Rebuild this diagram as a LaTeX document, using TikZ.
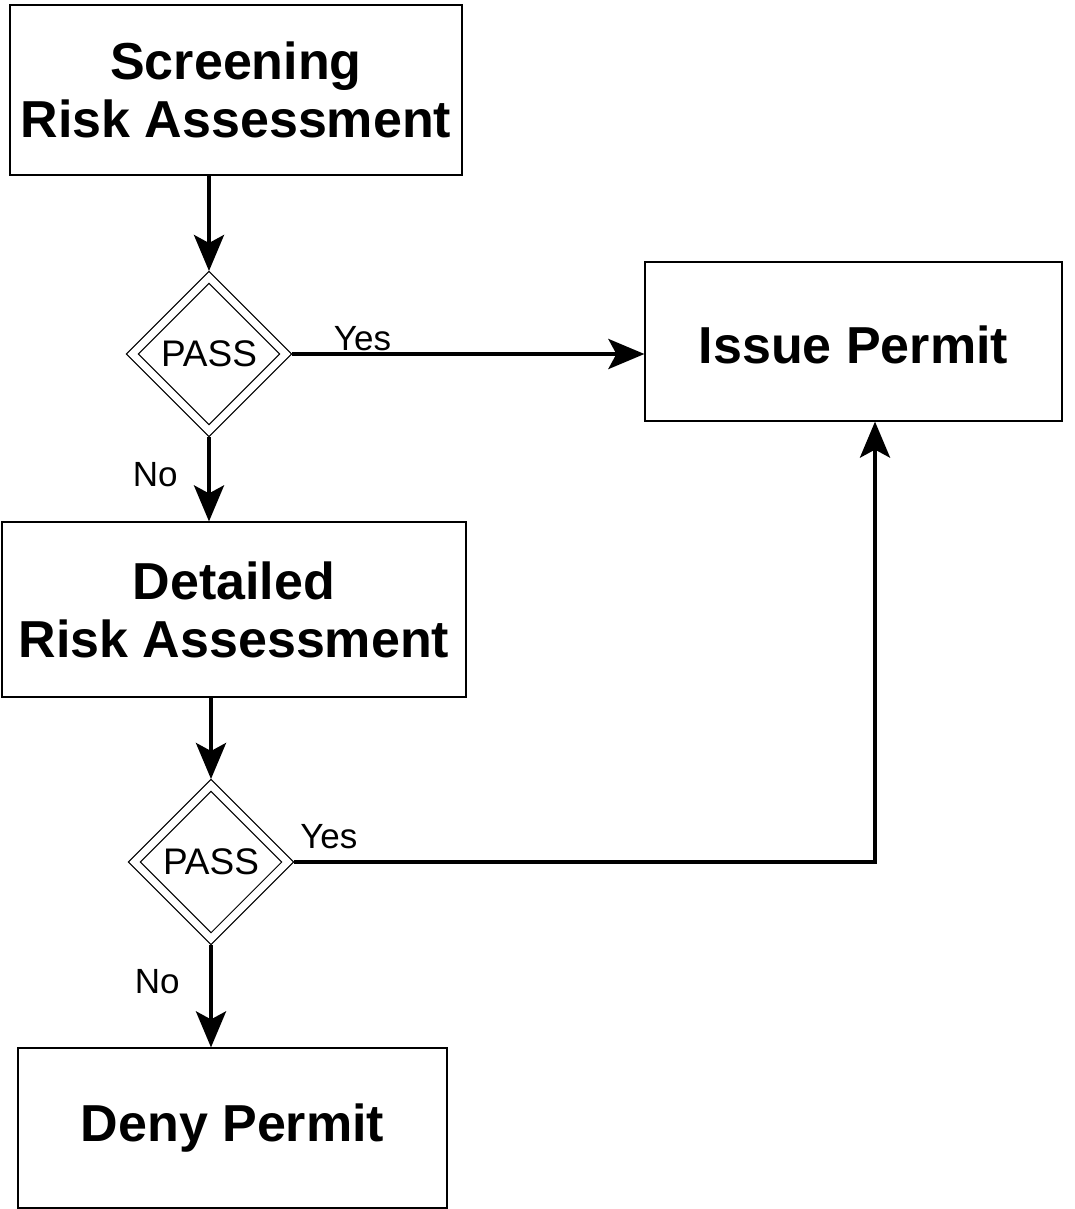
\documentclass[tikz,border=0pt]{standalone}
\usepackage{fontspec}
\setmainfont{Liberation Sans}
\usetikzlibrary{arrows.meta,shapes.geometric}

\begin{document}
\begin{tikzpicture}[x=1pt,y=-1pt,
    box/.style={draw, line width=1.2pt, inner sep=0pt, align=center, font=\fontsize{52}{58}\selectfont\bfseries},
    pass/.style={draw, diamond, aspect=1, double, double distance=7pt, line width=1.2pt, inner sep=0pt, minimum size=157pt, outer sep=4.5pt, font=\fontsize{37}{40}\selectfont},
    flow/.style={line width=4pt, -{Stealth[length=36pt,width=30pt,inset=8pt]}},
    lbl/.style={inner sep=1.5pt, font=\fontsize{35}{40}\selectfont}]
    \useasboundingbox (0,0) rectangle (1074,1209);

    % boxes and decisions
    \node[box, minimum width=452pt, minimum height=170pt] (scr) at (236,90) {Screening\\Risk Assessment};
    \node[pass] (d1) at (209,354) {PASS};
    \node[box, minimum width=417pt, minimum height=159pt, text height=44pt] (ip) at (853.5,341.5) {Issue Permit};
    \node[box, minimum width=464pt, minimum height=175pt] (det) at (234,609.5) {Detailed\\Risk Assessment};
    \node[pass] (d2) at (211,862) {PASS};
    \node[box, minimum width=429pt, minimum height=160pt] (deny) at (232.5,1128) {Deny Permit};

    % connectors
    \draw[flow] (scr.south -| d1.north) -- (d1.north);
    \draw[flow] (d1.east) -- (d1.east -| ip.west) node[lbl, pos=0.2, anchor=south] (yes1) {Yes};
    \draw[flow] (d1.south) -- (d1.south |- det.north) node[lbl, pos=0.44, left=28pt] (no1) {No};
    \draw[flow] (det.south -| d2.north) -- (d2.north);
    \draw[flow] (d2.east) -| ([xshift=21.5pt]ip.south) node[lbl, pos=0.03, anchor=south, yshift=10pt] (yes2) {Yes};
    \draw[flow] (d2.south) -- (d2.south |- deny.north) node[lbl, pos=0.36, left=28pt] (no2) {No};
\end{tikzpicture}
\end{document}
